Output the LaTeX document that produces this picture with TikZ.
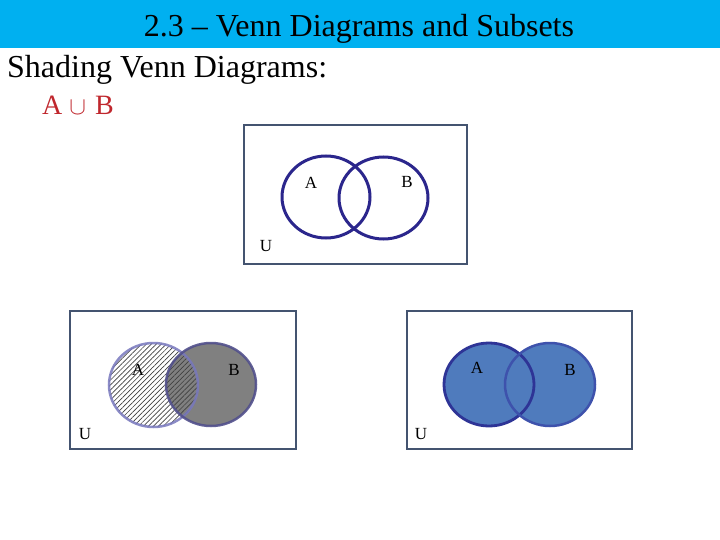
\documentclass[tikz,border=0pt]{standalone}
\usepackage{fontspec}
\setmainfont{Liberation Serif}
\usetikzlibrary{patterns.meta}
\definecolor{band}{RGB}{0,176,240}
\definecolor{boxc}{RGB}{68,84,112}
\definecolor{ring}{RGB}{43,38,140}
\definecolor{redt}{RGB}{192,39,45}
\definecolor{bluef}{RGB}{79,123,189}
\definecolor{ringA}{RGB}{46,52,150}
\definecolor{ringB}{RGB}{62,82,172}
\definecolor{grayf}{RGB}{128,128,128}
\definecolor{ringL}{RGB}{120,120,190}
\definecolor{ringG}{RGB}{82,80,140}
\tikzset{
  ubox/.style={draw=boxc, line width=2.8pt},
  lbl/.style={font=\fontsize{17}{17}\selectfont, inner sep=0pt},
}
\begin{document}
\begin{tikzpicture}[x=1pt,y=-1pt]
\useasboundingbox (0,0) rectangle (720,540);
\fill[white] (0,0) rectangle (720,540);
\fill[band] (0,0) rectangle (720,48);
\node[anchor=base, inner sep=0pt, font=\fontsize{32}{32}\selectfont] (title) at (359,37) {2.3 – Venn Diagrams and Subsets};
\node[anchor=base west, inner sep=0pt, font=\fontsize{32}{32}\selectfont] (sub) at (7,78) {Shading Venn Diagrams:};
\node[anchor=base west, inner sep=0pt, text=redt, font=\fontsize{28}{28}\selectfont] (expr) at (42,115) {A\hspace{7pt}$\cup$\hspace{9pt}B};

% top diagram
\draw[ubox] (244,125) rectangle (467,264);
\draw[ring, line width=3pt] (326,197) ellipse [x radius=44, y radius=41];
\draw[ring, line width=3pt] (383.5,198) ellipse [x radius=44.5, y radius=41];
\node[lbl] (a1) at (311,183) {A};
\node[lbl] (b1) at (407,182) {B};
\node[lbl] (u1) at (266,246) {U};

% bottom left diagram
\draw[ubox] (70,311) rectangle (296,449);
\fill[grayf] (211,384.5) ellipse [x radius=45, y radius=41.5];
\fill[pattern={Lines[angle=45,distance=3.5pt,line width=0.7pt]}, pattern color=black!75]
  (153.5,385) ellipse [x radius=44.5, y radius=42];
\draw[ringL, line width=2.5pt, opacity=0.85] (153.5,385) ellipse [x radius=44.5, y radius=42];
\draw[ringG, line width=2.5pt, opacity=0.9] (211,384.5) ellipse [x radius=45, y radius=41.5];
\node[lbl] (a2) at (138,370) {A};
\node[lbl] (b2) at (234,370) {B};
\node[lbl] (u2) at (85,434) {U};

% bottom right diagram
\draw[ubox] (407,311) rectangle (632,449);
\fill[bluef] (489,384.5) ellipse [x radius=45, y radius=41.5];
\fill[bluef] (550,384.5) ellipse [x radius=45, y radius=41.5];
\draw[ringA, line width=2.8pt] (489,384.5) ellipse [x radius=45, y radius=41.5];
\draw[ringB, line width=2.5pt] (550,384.5) ellipse [x radius=45, y radius=41.5];
\node[lbl] (a3) at (477,368) {A};
\node[lbl] (b3) at (570,370) {B};
\node[lbl] (u3) at (421,434) {U};
\end{tikzpicture}
\end{document}
